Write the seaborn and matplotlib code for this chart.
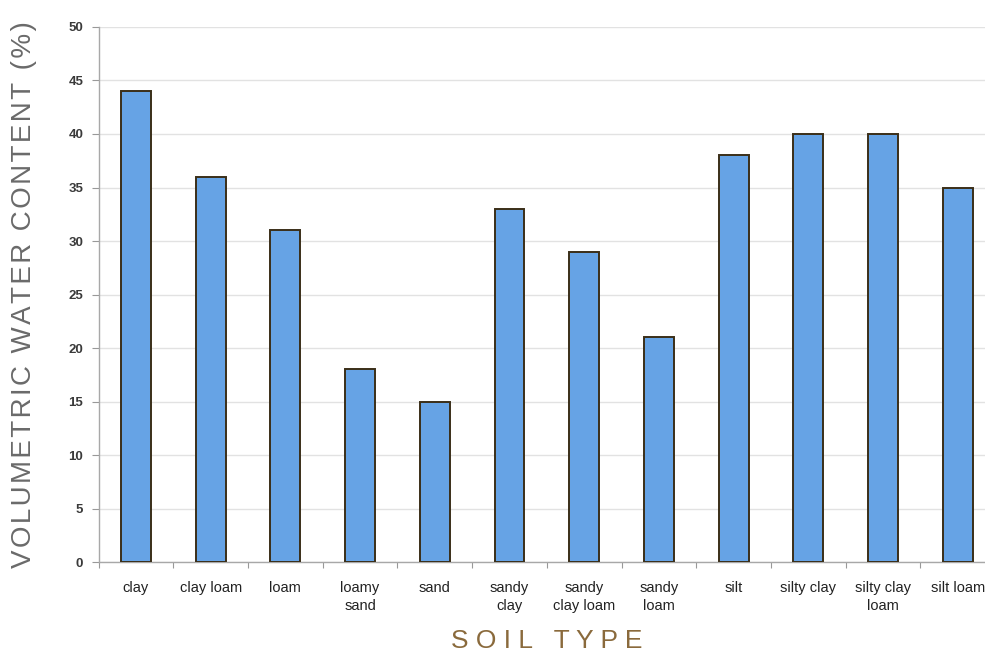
import matplotlib
matplotlib.use("Agg")
import matplotlib.pyplot as plt
import seaborn as sns
import pandas as pd
from matplotlib.ticker import FixedLocator

soil_types = ["clay", "clay loam", "loam", "loamy\nsand", "sand", "sandy\nclay",
              "sandy\nclay loam", "sandy\nloam", "silt", "silty clay",
              "silty clay\nloam", "silt loam"]
water_content = [44, 36, 31, 18, 15, 33, 29, 21, 38, 40, 40, 35]
y_ticks = [0, 5, 10, 15, 20, 25, 30, 35, 40, 45, 50]

df = pd.DataFrame({"soil": soil_types, "vwc": water_content})

sns.set_theme(style="white")
plt.rcParams["font.family"] = ["Liberation Sans", "DejaVu Sans"]

fig = plt.figure(figsize=(9.85, 6.52), dpi=100)
ax = fig.add_axes([0.1001, 0.138, 0.9101, 0.8206])

sns.barplot(data=df, x="soil", y="vwc", order=soil_types, color="#66A3E5",
            width=0.4, saturation=1, edgecolor="#3A2E18", linewidth=1.4, ax=ax,
            zorder=3)

ax.set_xlim(-0.5, len(soil_types) - 0.5)
ax.set_ylim(0, 50)
ax.set_yticks(y_ticks)
ax.set_yticklabels([str(t) for t in y_ticks], fontsize=9.5, fontweight="bold",
                   color="#3a3a3a")
ax.set_xticks(range(len(soil_types)))
ax.set_xticklabels(soil_types, fontsize=10.5, color="#222222", linespacing=1.3)
ax.xaxis.set_minor_locator(FixedLocator([i + 0.5 for i in range(-1, len(soil_types))]))
ax.tick_params(axis="x", which="major", length=0, pad=14)
ax.tick_params(axis="x", which="minor", length=4, color="#999999", width=0.8,
               direction="out", bottom=True)
ax.tick_params(axis="y", length=5, color="#999999", width=0.8, direction="out",
               left=True, pad=6)

ax.yaxis.grid(True, color="#e2e2e2", linewidth=1.0, zorder=0)
ax.set_axisbelow(True)
for side in ["top", "right"]:
    ax.spines[side].set_visible(False)
for side in ["left", "bottom"]:
    ax.spines[side].set_color("#a8a8a8")
    ax.spines[side].set_linewidth(1.0)

# slightly tracked-out axis titles
hair = "\u200a"
ylabel_text = hair.join("VOLUMETRIC WATER CONTENT (%)")
ax.set_xlabel("S O I L   T Y P E", fontsize=19, color="#8a6a3c", labelpad=12)
ax.set_ylabel(ylabel_text, fontsize=20, color="#6a6a6a", labelpad=23)

fig.savefig("out.png", dpi=100)
